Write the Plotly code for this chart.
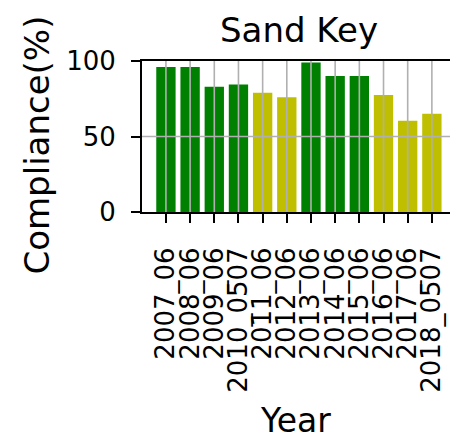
import plotly.graph_objects as go

# ---- data ----
years = ["2007_06", "2008_06", "2009_06", "2010_0507", "2011_06", "2012_06",
         "2013_06", "2014_06", "2015_06", "2016_06", "2017_06", "2018_0507"]
compliance = [96, 96, 83, 84.5, 79, 76, 99, 90, 90, 77.5, 60.5, 65]
status = ["good", "good", "good", "good", "fair", "fair",
          "good", "good", "good", "fair", "fair", "fair"]
y_ticks = [0, 50, 100]

palette = {"good": "#008000", "fair": "#bfbf00"}
FONT = "DejaVu Sans"

fig = go.Figure(go.Bar(
    x=years, y=compliance,
    marker=dict(color=[palette[s] for s in status], line=dict(width=0)),
    width=0.8,
))

# grid drawn above bars (as in reference)
shapes = []
for yr in years:
    shapes.append(dict(type="line", xref="x", yref="y", x0=yr, x1=yr, y0=0, y1=100,
                       line=dict(color="#b0b0b0", width=1.6), layer="above"))
for t in y_ticks[1:-1]:
    shapes.append(dict(type="line", xref="paper", yref="y", x0=0, x1=1, y0=t, y1=t,
                       line=dict(color="#b0b0b0", width=1.6), layer="above"))

fig.update_layout(
    width=450, height=443,
    margin=dict(l=142, r=0, t=61, b=231, pad=0, autoexpand=False),
    paper_bgcolor="white", plot_bgcolor="white",
    showlegend=False,
    font=dict(family=FONT, color="black"),
    shapes=shapes,
    annotations=[
        dict(text="Sand Key", xref="paper", yref="paper", x=0.51, y=1, yshift=31,
             xanchor="center", yanchor="middle", showarrow=False,
             font=dict(size=34, family=FONT, color="black")),
        dict(text="Year", xref="paper", yref="paper", x=0.498, y=0, yshift=-208,
             xanchor="center", yanchor="middle", showarrow=False,
             font=dict(size=33, family=FONT, color="black")),
        dict(text="Compliance(%)", xref="paper", yref="paper", x=0, xshift=-105,
             y=0.44, xanchor="center", yanchor="middle", textangle=-90, showarrow=False,
             font=dict(size=34, family=FONT, color="black")),
    ],
)

fig.update_xaxes(
    type="category", range=[-0.99, 11.75], automargin=False,
    tickmode="array", tickvals=years, ticktext=years,
    showgrid=False, zeroline=False,
    showline=True, linecolor="black", linewidth=2, mirror=True,
    ticks="outside", ticklen=9, tickwidth=2, tickcolor="black",
    tickangle=-90, tickfont=dict(size=26, family=FONT, color="black"),
    ticklabelstandoff=14,
)
fig.update_yaxes(
    range=[0, 100], tickvals=y_ticks, automargin=False,
    showgrid=False, zeroline=False,
    showline=True, linecolor="black", linewidth=2, mirror=False,
    ticks="outside", ticklen=9, tickwidth=2, tickcolor="black",
    tickfont=dict(size=26, family=FONT, color="black"),
    ticklabelstandoff=10,
)

fig.write_html("out.html", config={"displayModeBar": False},
               post_script="document.body.style.margin='0';")
